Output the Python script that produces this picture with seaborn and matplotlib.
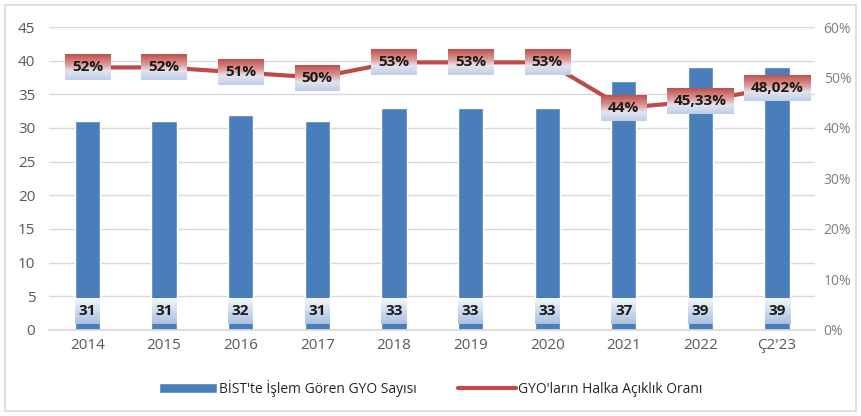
import matplotlib
matplotlib.use("Agg")
import matplotlib.pyplot as plt
import seaborn as sns
import pandas as pd
import numpy as np
from matplotlib.patches import Rectangle, Patch
from matplotlib.lines import Line2D
from matplotlib.colors import LinearSegmentedColormap

years = ["2014", "2015", "2016", "2017", "2018", "2019", "2020", "2021", "2022", "Ç2'23"]
counts = [31, 31, 32, 31, 33, 33, 33, 37, 39, 39]
ratios = [52, 52, 51, 50, 53, 53, 53, 44, 45.33, 48.02]
ratio_labels = ["52%", "52%", "51%", "50%", "53%", "53%", "53%", "44%", "45,33%", "48,02%"]
count_name = "BİST'te İşlem Gören GYO Sayısı"
ratio_name = "GYO'ların Halka Açıklık Oranı"

sns.set_theme(style="white")
plt.rcParams['font.family'] = ['Open Sans', 'DejaVu Sans']

df = pd.DataFrame({"year": years, "count": counts, "ratio": ratios})

fig = plt.figure(figsize=(8.61, 4.16), dpi=100)
ax = fig.add_axes([0.057, 0.207, 0.890, 0.728])
bar_col = "#4a7ebb"
line_col = "#be4b48"
tick_col = "#595959"

sns.barplot(data=df, x="year", y="count", color=bar_col, width=0.33, ax=ax,
            saturation=1, zorder=2)
ax.set_ylim(0, 45)
ax.set_yticks(range(0, 50, 5))
ax.grid(axis="y", color="#d9d9d9", linewidth=1, zorder=0)
ax.set_axisbelow(True)
ax.set_xlabel("")
ax.set_ylabel("")
for s in ["top", "right", "left"]:
    ax.spines[s].set_visible(False)
ax.spines["bottom"].set_color("#d9d9d9")
ax.tick_params(axis="both", colors=tick_col, labelsize=11, length=0)
ax.tick_params(axis="y", pad=10)
ax.tick_params(axis="x", pad=6)
ax.set_xlim(-0.5, 9.5)

ax2 = ax.twinx()
sns.lineplot(x=np.arange(len(years)), y=ratios, color=line_col, linewidth=3, ax=ax2, zorder=3)
ax2.set_ylim(0, 60)
ax2.set_xlim(-0.5, 9.5)
ax2.set_yticks(range(0, 70, 10))
ax2.set_yticklabels([f"{v}%" for v in range(0, 70, 10)])
for s in ["top", "right", "left", "bottom"]:
    ax2.spines[s].set_visible(False)
ax2.tick_params(axis="y", colors="#7f7f7f", labelsize=10, length=0, pad=6)
ax2.set_ylabel("")

ptexts = []
for i, (r, lab) in enumerate(zip(ratios, ratio_labels)):
    ptexts.append(ax2.text(i, r, lab, ha="center", va="center", fontsize=11,
                           fontweight="bold", color="#1a1a1a", zorder=6))
ctexts = []
for i, c in enumerate(counts):
    ctexts.append(ax.text(i, 2.8, str(c), ha="center", va="center", fontsize=11,
                          fontweight="bold", color="#1a1a1a", zorder=6))

handles = [Patch(facecolor=bar_col, label=count_name),
           Line2D([0], [0], color=line_col, linewidth=3, label=ratio_name)]
fig.legend(handles=handles, loc="center", bbox_to_anchor=(0.5, 0.067), ncol=2,
           frameon=False, fontsize=10, handlelength=4.2, columnspacing=3.0,
           handletextpad=0.1, labelcolor="#262626")

fig.patches.append(Rectangle((0.006, 0.012), 0.988, 0.976, transform=fig.transFigure,
                             fill=False, edgecolor="#d9d9d9", linewidth=1.2))

# gradient label boxes
fig.canvas.draw()
renderer = fig.canvas.get_renderer()
pcmap = LinearSegmentedColormap.from_list(
    "p", [(0, "#bccfe9"), (0.35, "#e4e4ee"), (0.6, "#dc9a98"), (1, "#c0504d")])
ccmap = LinearSegmentedColormap.from_list("c", ["#a9c1e0", "#cddbed", "#f4f7fb"])
grad = np.linspace(0, 1, 64).reshape(-1, 1)


def boxes(texts, axis, cmap, padx, pady, min_w=0):
    inv = axis.transData.inverted()
    for t in texts:
        bb = t.get_window_extent(renderer)
        cx = (bb.x0 + bb.x1) / 2
        cy = (bb.y0 + bb.y1) / 2
        w = max(bb.width + 2 * padx, min_w)
        h = bb.height + 2 * pady
        x0, x1 = cx - w / 2, cx + w / 2
        y0, y1 = cy - h / 2, cy + h / 2
        (dx0, dy0), (dx1, dy1) = inv.transform([(x0, y0), (x1, y1)])
        axis.imshow(grad, cmap=cmap, origin="lower", aspect="auto",
                    extent=(dx0, dx1, dy0, dy1), zorder=5, interpolation="bilinear")
    axis.set_xlim(-0.5, 9.5)


boxes(ptexts, ax2, pcmap, 7, 6)
boxes(ctexts, ax, ccmap, 3, 6, min_w=25)
ax.set_ylim(0, 45)
ax2.set_ylim(0, 60)

fig.savefig("out.png", dpi=100)
